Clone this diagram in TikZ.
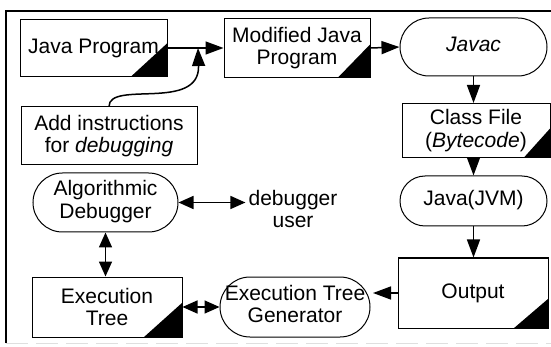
\documentclass[tikz,border=0pt]{standalone}
\usepackage{fontspec}
\setmainfont{Liberation Sans}
\usetikzlibrary{arrows.meta,shapes.misc}
\newcommand{\cornertri}[3]{\fill (#1.south east) -- ++(-#2,0) -- ++(#2,-#3) -- cycle;}
\newcommand{\ptext}[1]{\makebox[40pt][c]{\begin{tabular}{@{}c@{}}#1\end{tabular}}}
\begin{document}
\begin{tikzpicture}[x=1pt,y=-1pt,
  every node/.style={font=\fontsize{21}{22.5}\selectfont, align=center, inner sep=0pt},
  box/.style={draw, line width=1pt, rectangle},
  pill/.style={draw, line width=1pt, rounded rectangle},
  arr/.style={line width=1.5pt, -{Triangle[length=18pt,width=13pt]}},
  darr/.style={line width=1.5pt, {Triangle[length=15pt,width=13pt]}-{Triangle[length=15pt,width=13pt]}}]
\useasboundingbox (0,0) rectangle (551,347);
% frame
\draw[line width=1.3pt] (6,343) -- (6,11) -- (551,11);
\draw[gray!25, line width=1pt, dash pattern=on 22pt off 8pt] (6,343) -- (551,343);
% nodes
\node[box, minimum width=147pt, minimum height=57pt] (jp) at (93.5,48) {Java Program};
\node[box, minimum width=146pt, minimum height=59pt] (mjp) at (297,48) {Modified Java\\Program};
\node[pill, minimum width=147pt, minimum height=58pt] (javac) at (473.5,47) {\ptext{\textit{Javac}}};
\node[box, minimum width=148pt, minimum height=54pt] (cf) at (476,130.5) {Class File\\(\textit{Bytecode})};
\node[pill, minimum width=147pt, minimum height=50pt] (jvm) at (473.5,201) {\ptext{Java(JVM)}};
\node[box, minimum width=150pt, minimum height=70pt] (out) at (473,293) {Output};
\node[pill, minimum width=150pt, minimum height=60pt] (etg) at (295,307) {\ptext{Execution Tree\\Generator}};
\node[box, minimum width=150pt, minimum height=60pt] (et) at (107,307) {Execution\\Tree};
\node[pill, minimum width=145pt, minimum height=59pt] (ad) at (105.5,202.5) {\ptext{Algorithmic\\Debugger}};
\node[box, minimum width=176pt, minimum height=58pt] (ai) at (109,136) {Add instructions\\for \textit{debugging}};
\node[inner sep=3pt] (user) at (293,209) {debugger\\user};
\coordinate (mid) at (198,48);
% corner triangles
\cornertri{jp}{37}{34}
\cornertri{mjp}{33}{34}
\cornertri{cf}{27}{30}
\cornertri{out}{35}{30}
\cornertri{et}{39}{35}
% connectors
\draw[arr] (jp.east) -- (mjp.west);
\draw[arr] (ai.north) .. controls (109,80) and (200,112) .. (mid);
\draw[arr] (mjp.east) -- (javac.west);
\draw[arr] (javac.south) -- (javac.south |- cf.north);
\draw[arr] (cf.south -| jvm.north) -- (jvm.north);
\draw[arr] (jvm.south) -- (jvm.south |- out.north);
\draw[arr, shorten >=2.5pt] (out.west) -- (out.west -| etg.east);
\draw[darr] (et.east) -- (etg.west);
\draw[darr] (ad.south) -- (ad.south |- et.north);
\draw[darr] (ad.east) -- (ad.east -| user.west);
\end{tikzpicture}
\end{document}
